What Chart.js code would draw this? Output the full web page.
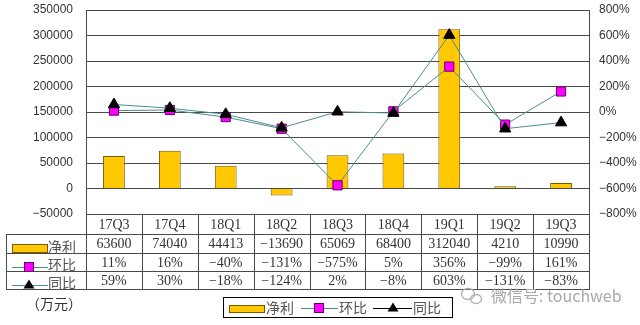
<!DOCTYPE html>
<html>
<head>
<meta charset="utf-8">
<script src="https://cdn.jsdelivr.net/npm/chart.js@4.4.1/dist/chart.umd.min.js"></script>
<style>
  html, body { margin: 0; padding: 0; background: #fff; }
</style>
</head>
<body>
<canvas id="profitChart" width="640" height="325"></canvas>
<script>
// data
const quarters = ['17Q3', '17Q4', '18Q1', '18Q2', '18Q3', '18Q4', '19Q1', '19Q2', '19Q3'];
const netProfit = [63600, 74040, 44413, -13690, 65069, 68400, 312040, 4210, 10990];
const qoq = [11, 16, -40, -131, -575, 5, 356, -99, 161];
const yoy = [59, 30, -18, -124, 2, -8, 603, -131, -83];
const leftTicks = [-50000, 0, 50000, 100000, 150000, 200000, 250000, 300000, 350000];
const rightTicks = [-800, -600, -400, -200, 0, 200, 400, 600, 800];

const GOLD = '#FFC800';
const GOLD_EDGE = '#7A5A00';
const MAGENTA = '#FF00FF';
const LINE = '#4C8C8C';
const GRID = '#4a4a4a';
const TXT = '#333';
const NUM_FONT = '14px "Liberation Serif", "Noto Sans CJK SC", serif';
const CJK_FONT = '14px "Noto Sans CJK SC", sans-serif';

function fmt(v, suffix) {
  return (v < 0 ? '\u2212' + Math.abs(v) : String(v)) + (suffix || '');
}

function drawSquare(ctx, x, y, s) {
  ctx.fillStyle = MAGENTA;
  ctx.strokeStyle = '#660066';
  ctx.lineWidth = 1;
  ctx.fillRect(x - s / 2, y - s / 2, s, s);
  ctx.strokeRect(x - s / 2, y - s / 2, s, s);
}

function drawTriangle(ctx, x, y, w, h) {
  ctx.fillStyle = '#000';
  ctx.beginPath();
  ctx.moveTo(x, y - h / 2);
  ctx.lineTo(x + w / 2, y + h / 2);
  ctx.lineTo(x - w / 2, y + h / 2);
  ctx.closePath();
  ctx.fill();
}

function hline(ctx, x1, x2, y) {
  ctx.beginPath();
  ctx.moveTo(x1, y + 0.5);
  ctx.lineTo(x2, y + 0.5);
  ctx.stroke();
}

function vline(ctx, x, y1, y2) {
  ctx.beginPath();
  ctx.moveTo(Math.round(x) + 0.5, y1);
  ctx.lineTo(Math.round(x) + 0.5, y2);
  ctx.stroke();
}

// data table under the plot, legend box and watermark
const tablePlugin = {
  id: 'dataTable',
  afterDraw(chart) {
    const ctx = chart.ctx;
    const area = chart.chartArea;
    const xs = chart.scales.x;
    const n = quarters.length;
    const colW = (area.right - area.left) / n;
    const top = Math.round(area.bottom);
    const rows = [top, top + 20, top + 39, top + 57, top + 75];
    const labelLeft = 6;

    ctx.save();
    ctx.strokeStyle = GRID;
    ctx.lineWidth = 1;
    hline(ctx, area.left, area.right, rows[0]);
    for (let r = 1; r < rows.length; r++) hline(ctx, labelLeft, area.right, rows[r]);
    vline(ctx, labelLeft, rows[1], rows[4] + 1);
    for (let i = 0; i <= n; i++) vline(ctx, area.left + i * colW, rows[0], rows[4] + 1);

    // cell texts
    ctx.fillStyle = TXT;
    ctx.font = NUM_FONT;
    ctx.textAlign = 'center';
    ctx.textBaseline = 'middle';
    const rowVals = [
      quarters,
      netProfit.map(v => fmt(v)),
      qoq.map(v => fmt(v, '%')),
      yoy.map(v => fmt(v, '%'))
    ];
    rowVals.forEach((vals, r) => {
      const cy = (rows[r] + rows[r + 1]) / 2 + 1;
      vals.forEach((t, i) => ctx.fillText(t, xs.getPixelForValue(i), cy));
    });

    // row headers
    ctx.textAlign = 'left';
    ctx.textBaseline = 'alphabetic';
    ctx.font = CJK_FONT;
    const names = chart.data.datasets.map(d => d.label);
    // net profit
    ctx.fillStyle = GOLD;
    ctx.fillRect(12, rows[2] - 9, 35, 8);
    ctx.strokeStyle = GOLD_EDGE;
    ctx.strokeRect(12.5, rows[2] - 8.5, 35, 8);
    ctx.fillStyle = '#555';
    ctx.fillText(names[0], 48, rows[2] - 1);
    // qoq
    ctx.strokeStyle = LINE;
    hline(ctx, 12, 48, rows[3] - 4);
    drawSquare(ctx, 29, rows[3] - 4, 9);
    ctx.fillStyle = '#555';
    ctx.fillText(names[1], 48, rows[3] - 1);
    // yoy
    ctx.strokeStyle = LINE;
    hline(ctx, 12, 48, rows[4] - 4);
    drawTriangle(ctx, 29, rows[4] - 5, 11, 9);
    ctx.fillStyle = '#555';
    ctx.fillText(names[2], 48, rows[4] - 1);

    // unit
    ctx.fillStyle = TXT;
    ctx.font = '14px "Noto Sans CJK SC", sans-serif';
    ctx.textBaseline = 'middle';
    ctx.fillText('（万元）', 26, 304);

    // legend box
    ctx.strokeStyle = '#000';
    ctx.strokeRect(223.5, 297.5, 229, 20);
    ctx.font = CJK_FONT;
    ctx.textBaseline = 'alphabetic';
    ctx.fillStyle = GOLD;
    ctx.fillRect(229, 305, 35, 7);
    ctx.strokeStyle = GOLD_EDGE;
    ctx.strokeRect(229.5, 305.5, 35, 7);
    ctx.fillStyle = '#555';
    ctx.fillText(names[0], 266, 313);
    ctx.strokeStyle = LINE;
    hline(ctx, 301, 338, 308);
    drawSquare(ctx, 319, 308, 9);
    ctx.fillStyle = '#555';
    ctx.fillText(names[1], 339, 313);
    ctx.strokeStyle = '#000';
    hline(ctx, 373, 412, 308);
    drawTriangle(ctx, 393, 307, 11, 9);
    ctx.fillStyle = '#555';
    ctx.fillText(names[2], 413, 313);

    // watermark
    ctx.strokeStyle = '#b0b0b0';
    ctx.lineWidth = 1.3;
    ctx.beginPath();
    ctx.ellipse(468, 294, 6.5, 5.5, 0, 0, Math.PI * 2);
    ctx.stroke();
    ctx.beginPath();
    ctx.ellipse(476, 299, 5.5, 4.5, 0, 0, Math.PI * 2);
    ctx.stroke();
    ctx.fillStyle = '#a8a8a8';
    ctx.font = '16px "Noto Sans CJK SC", sans-serif';
    ctx.textBaseline = 'middle';
    ctx.fillText('微信号: touchweb', 491, 296);
    ctx.restore();
  }
};

new Chart(document.getElementById('profitChart'), {
  type: 'bar',
  data: {
    labels: quarters,
    datasets: [
      {
        type: 'bar',
        label: '净利',
        data: netProfit,
        yAxisID: 'y',
        backgroundColor: GOLD,
        borderColor: GOLD_EDGE,
        borderWidth: 1,
        barPercentage: 0.39,
        categoryPercentage: 1,
        order: 3
      },
      {
        type: 'line',
        label: '环比',
        data: qoq,
        yAxisID: 'y1',
        borderColor: LINE,
        borderWidth: 1,
        pointStyle: 'rect',
        pointRadius: 6.5,
        pointBackgroundColor: MAGENTA,
        pointBorderColor: '#660066',
        pointBorderWidth: 1,
        tension: 0,
        order: 2
      },
      {
        type: 'line',
        label: '同比',
        data: yoy,
        yAxisID: 'y1',
        borderColor: LINE,
        borderWidth: 1,
        pointStyle: 'triangle',
        pointRadius: 6.5,
        pointBackgroundColor: '#000',
        pointBorderColor: '#000',
        pointBorderWidth: 1,
        tension: 0,
        order: 1
      }
    ]
  },
  options: {
    responsive: false,
    animation: false,
    devicePixelRatio: 1,
    layout: { padding: { top: 10, bottom: 111, left: 0, right: 0 } },
    plugins: {
      legend: { display: false },
      tooltip: { enabled: false }
    },
    scales: {
      x: { display: false },
      y: {
        position: 'left',
        min: -50000,
        max: 350000,
        afterBuildTicks: s => { s.ticks = leftTicks.map(v => ({ value: v })); },
        afterFit: s => { s.width = 86; s.paddingTop = 0; s.paddingBottom = 0; },
        ticks: {
          color: TXT,
          padding: 13,
          font: { family: '"Liberation Sans", sans-serif', size: 12 },
          callback: v => fmt(v)
        },
        grid: { color: GRID, drawTicks: false },
        border: { color: GRID }
      },
      y1: {
        position: 'right',
        min: -800,
        max: 800,
        afterBuildTicks: s => { s.ticks = rightTicks.map(v => ({ value: v })); },
        afterFit: s => { s.width = 51; s.paddingTop = 0; s.paddingBottom = 0; },
        ticks: {
          color: TXT,
          padding: 10,
          font: { family: '"Liberation Sans", sans-serif', size: 12 },
          callback: v => fmt(v, '%')
        },
        grid: { drawOnChartArea: false, drawTicks: false },
        border: { color: GRID }
      }
    }
  },
  plugins: [tablePlugin]
});
</script>
</body>
</html>
